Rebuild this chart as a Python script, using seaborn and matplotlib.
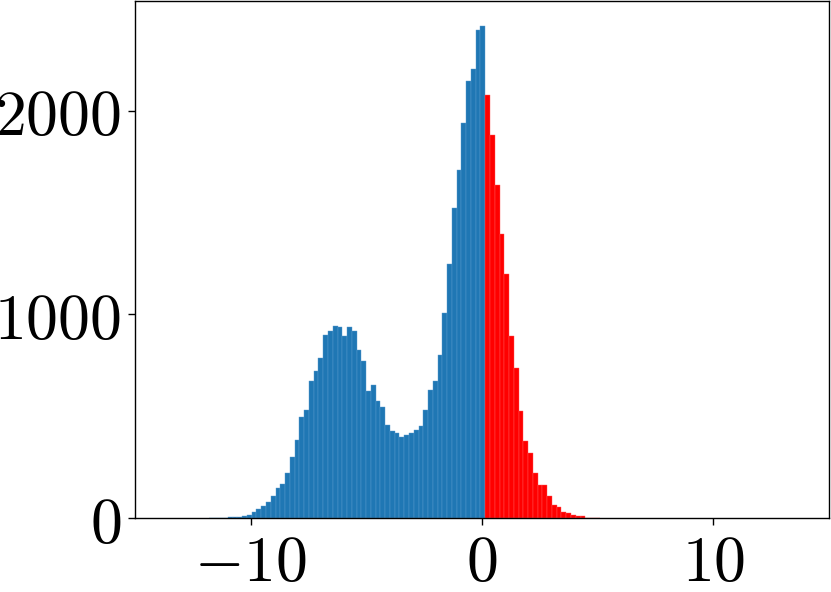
import numpy as np
import pandas as pd
import matplotlib
matplotlib.use("Agg")
import matplotlib.pyplot as plt
from matplotlib.ticker import FuncFormatter
import seaborn as sns

plt.rcParams["mathtext.fontset"] = "cm"

# histogram bins
bin_width = 0.206
first_pos_edge = 0.14

# counts left of the split (leftmost bin first)
neg_counts = [1, 1, 1, 2, 3, 4, 6, 8, 13, 28,
              44, 59, 78, 106, 145, 168, 222, 301, 381, 498,
              528, 672, 721, 786, 897, 920, 943, 936, 892, 940,
              920, 824, 770, 624, 652, 572, 546, 457, 428, 418,
              400, 407, 415, 430, 451, 528, 630, 673, 799, 1008,
              1248, 1524, 1706, 1938, 2147, 2203, 2395, 2417]
# counts right of the split
pos_counts = [2078, 1882, 1635, 1392, 1196, 895, 735, 523, 377, 317,
              222, 160, 160, 108, 65, 52, 29, 23, 15, 10,
              10, 2, 1, 1]

x_ticks = [-10, 0, 10]
y_ticks = [0, 1000, 2000]

n_neg = len(neg_counts)
n_pos = len(pos_counts)
edges = first_pos_edge + bin_width * np.arange(-n_neg, n_pos + 1)
centers = (edges[:-1] + edges[1:]) / 2

neg_df = pd.DataFrame({"value": centers[:n_neg], "count": neg_counts})
pos_df = pd.DataFrame({"value": centers[n_neg:], "count": pos_counts})

fig = plt.figure(figsize=(8.31, 5.92), dpi=100)
ax = fig.add_axes([135 / 831, 74 / 592, 694 / 831, 517 / 592])

# bins as plain lists: seaborn compares bins to "auto"
sns.histplot(data=neg_df, x="value", weights="count", bins=list(edges[:n_neg + 1]),
             color="#1f77b4", alpha=1, edgecolor="#5b9bd0", linewidth=0.3, ax=ax)
sns.histplot(data=pos_df, x="value", weights="count", bins=list(edges[n_neg:]),
             color="#ff0000", alpha=1, edgecolor="#ff5a5a", linewidth=0.3, ax=ax)

ax.set_xlim(-15, 15)
ax.set_xticks(x_ticks)
ax.set_yticks(y_ticks)
fmt = FuncFormatter(lambda v, p: "$%g$" % v)
ax.xaxis.set_major_formatter(fmt)
ax.yaxis.set_major_formatter(fmt)
ax.set_xlabel("")
ax.set_ylabel("")
ax.tick_params(labelsize=46, length=5, width=1.0, pad=5)
for s in ax.spines.values():
    s.set_linewidth(1.0)

fig.savefig("out.png", dpi=100)
